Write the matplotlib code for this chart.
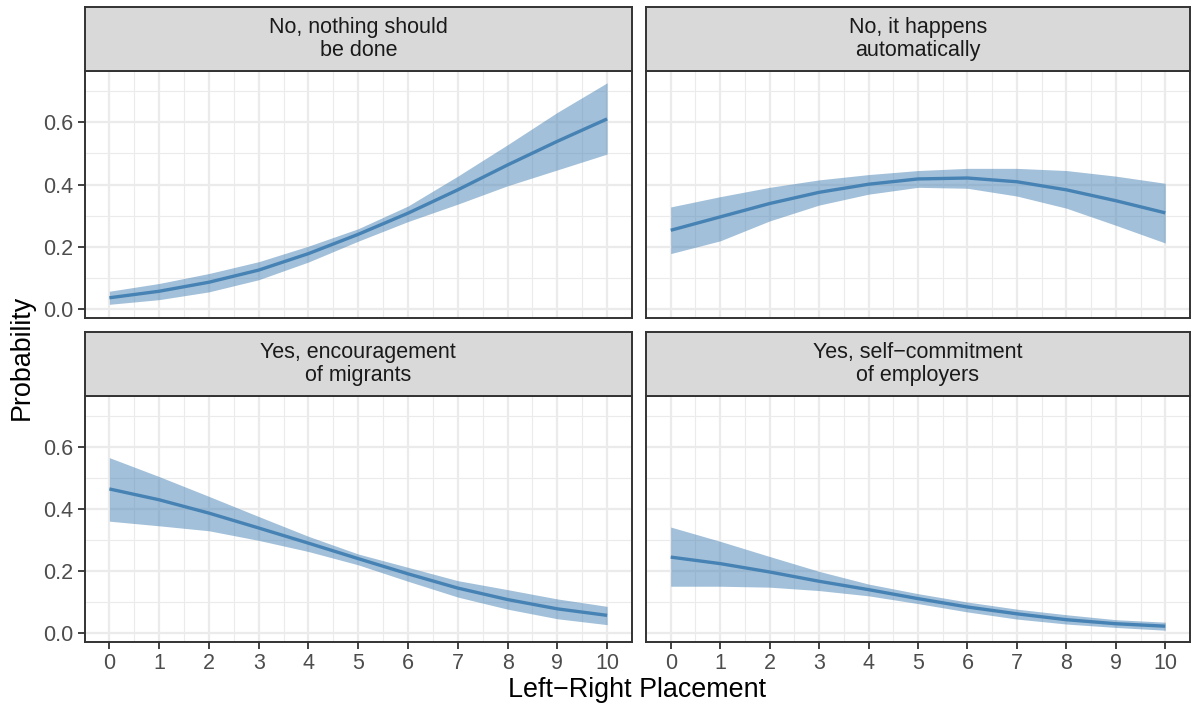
import numpy as np
import matplotlib
matplotlib.use("Agg")
from matplotlib import pyplot as plt

plt.rcParams['font.family'] = ['Liberation Sans', 'DejaVu Sans']

# Daten: vorhergesagte Wahrscheinlichkeiten je Links-Rechts-Position
placement = [0, 1, 2, 3, 4, 5, 6, 7, 8, 9, 10]

titles = ["No, nothing should\nbe done",
          "No, it happens\nautomatically",
          "Yes, encouragement\nof migrants",
          "Yes, self\u2212commitment\nof employers"]

nothing_fit = [0.036, 0.057, 0.086, 0.125, 0.178, 0.240, 0.308, 0.383, 0.463, 0.539, 0.611]
nothing_lo = [0.015, 0.030, 0.055, 0.094, 0.151, 0.218, 0.281, 0.337, 0.396, 0.447, 0.498]
nothing_hi = [0.057, 0.082, 0.114, 0.152, 0.202, 0.258, 0.331, 0.427, 0.528, 0.632, 0.727]

auto_fit = [0.253, 0.296, 0.339, 0.375, 0.401, 0.418, 0.421, 0.409, 0.383, 0.348, 0.309]
auto_lo = [0.178, 0.219, 0.283, 0.334, 0.369, 0.391, 0.388, 0.363, 0.324, 0.269, 0.212]
auto_hi = [0.328, 0.361, 0.391, 0.415, 0.432, 0.445, 0.452, 0.452, 0.445, 0.427, 0.404]

migr_fit = [0.465, 0.430, 0.387, 0.339, 0.290, 0.240, 0.191, 0.145, 0.108, 0.078, 0.057]
migr_lo = [0.361, 0.346, 0.330, 0.299, 0.263, 0.220, 0.167, 0.116, 0.077, 0.046, 0.027]
migr_hi = [0.566, 0.505, 0.441, 0.376, 0.312, 0.255, 0.212, 0.169, 0.140, 0.110, 0.086]

empl_fit = [0.245, 0.224, 0.197, 0.167, 0.140, 0.111, 0.084, 0.062, 0.043, 0.030, 0.022]
empl_lo = [0.151, 0.151, 0.148, 0.137, 0.120, 0.095, 0.068, 0.045, 0.029, 0.018, 0.009]
empl_hi = [0.342, 0.296, 0.247, 0.199, 0.158, 0.127, 0.100, 0.077, 0.059, 0.043, 0.035]

fits = [nothing_fit, auto_fit, migr_fit, empl_fit]
lows = [nothing_lo, auto_lo, migr_lo, empl_lo]
highs = [nothing_hi, auto_hi, migr_hi, empl_hi]

W, H = 1192, 707
fig = plt.figure(figsize=(W / 100, H / 100), dpi=100)

# Pixel-Layout der Panels (links, rechts) und (Streifen oben, Panel oben, Panel unten)
cols = [(84.5, 632), (646, 1190)]
rows = [(7, 71, 318), (332, 396, 642)]

border = '#333333'
for i in range(4):
    r, c = divmod(i, 2)
    x0, x1 = cols[c]
    s0, p0, p1 = rows[r]
    ax = fig.add_axes([x0 / W, 1 - p1 / H, (x1 - x0) / W, (p1 - p0) / H])
    sx = fig.add_axes([x0 / W, 1 - p0 / H, (x1 - x0) / W, (p0 - s0) / H])

    ax.fill_between(placement, lows[i], highs[i], color='#4682B4', alpha=0.5, lw=0)
    ax.plot(placement, fits[i], color='#4682B4', lw=2.4, solid_capstyle='butt')

    ax.set_xlim(-0.5, 10.5)
    ax.set_ylim(-0.029, 0.765)
    ax.set_xticks(range(0, 11))
    ax.set_xticks(np.arange(0.5, 10, 1), minor=True)
    ax.set_yticks([0.0, 0.2, 0.4, 0.6])
    ax.set_yticks([0.1, 0.3, 0.5, 0.7], minor=True)
    ax.yaxis.set_major_formatter(matplotlib.ticker.FormatStrFormatter('%.1f'))
    ax.grid(which='major', color='#EBEBEB', lw=1.6)
    ax.grid(which='minor', color='#EBEBEB', lw=0.8)
    ax.set_axisbelow(True)
    for sp in ax.spines.values():
        sp.set_color(border)
        sp.set_linewidth(1.4)
    ax.tick_params(which='minor', length=0)
    ax.tick_params(which='major', length=5, width=1.3, color=border,
                   labelsize=15.5, labelcolor='#4D4D4D', pad=3)
    if r == 0:
        ax.tick_params(axis='x', which='major', length=0, labelbottom=False)
    if c == 1:
        ax.tick_params(axis='y', which='major', length=0, labelleft=False)

    sx.set_facecolor('#D9D9D9')
    sx.set_xticks([])
    sx.set_yticks([])
    for sp in sx.spines.values():
        sp.set_color(border)
        sp.set_linewidth(1.4)
    sx.text(0.5, 0.5, titles[i], ha='center', va='center', fontsize=15.5,
            color='#1A1A1A', linespacing=1.12, transform=sx.transAxes)

fig.text(22 / W, 1 - 357 / H, 'Probability', rotation=90, ha='center', va='center',
         fontsize=19.4, color='black')
fig.text(637 / W, 1 - 690 / H, 'Left\u2212Right Placement', ha='center', va='center',
         fontsize=19.4, color='black')

fig.savefig('out.png', dpi=100)
